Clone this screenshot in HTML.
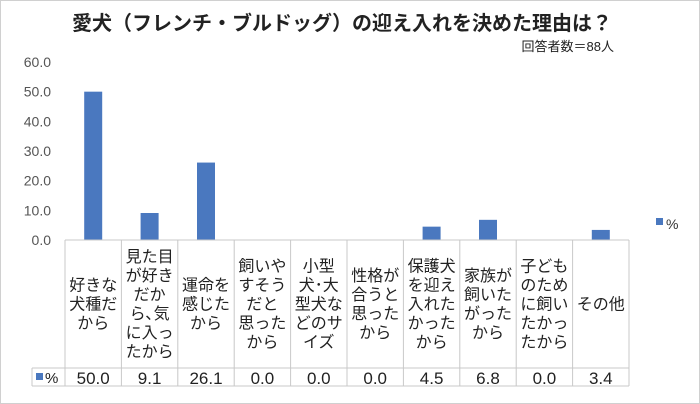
<!DOCTYPE html>
<html><head><meta charset="utf-8"><style>
body{margin:0;background:#fff}
svg{display:block;font-family:"Liberation Sans","Noto Sans CJK JP",sans-serif}
</style></head><body>
<svg id="c" width="700" height="404" xmlns="http://www.w3.org/2000/svg">
<rect x="0.5" y="0.5" width="699" height="403" fill="#fff" stroke="#d0d0d0"/>
<text x="342" y="30" text-anchor="middle" font-size="20" font-weight="bold" fill="#222">愛犬（フレンチ・ブルドッグ）の迎え入れを決めた理由は？</text>
<text x="614" y="51" text-anchor="end" font-size="13" fill="#222">回答者数＝88人</text>
<g id="yax"></g><g id="bars"></g><g id="tbl"></g>
<rect x="656" y="218" width="7" height="7" fill="#4a78bf"/>
<text x="666" y="229" font-size="14" fill="#333">%</text>
</svg>
<script>
const categories=[["好きな","犬種だ","から"],["見た目","が好き","だか","ら､気","に入っ","たから"],["運命を","感じた","から"],["飼いや","すそう","だと","思った","から"],["小型","犬･大","型犬な","どのサ","イズ"],["性格が","合うと","思った","から"],["保護犬","を迎え","入れた","かった","から"],["家族が","飼いた","がった","から"],["子ども","のため","に飼い","たかっ","たから"],["その他"]];
const values=[50.0,9.1,26.1,0.0,0.0,0.0,4.5,6.8,0.0,3.4];
const yTicks=[0,10,20,30,40,50,60];
const NS="http://www.w3.org/2000/svg";
const X0=65,CW=56.4,Y0=240,YT=62,YMAX=60,BW=18,TB=368,TE=386,LX=32;
const y=v=>Y0-(v/YMAX)*(Y0-YT);
const cx=i=>X0+CW*(i+0.5);
function mk(p,t,a){const e=document.createElementNS(NS,t);for(const k in a)e.setAttribute(k,a[k]);p.appendChild(e);return e;}
const yax=document.getElementById('yax'),bars=document.getElementById('bars'),tbl=document.getElementById('tbl');
yTicks.forEach(t=>{const e=mk(yax,'text',{x:51,y:y(t)+5,'text-anchor':'end','font-size':14,fill:'#555'});


e.textContent=t.toFixed(1);});
values.forEach((v,i)=>{const r=mk(bars,'rect',{x:cx(i)-BW/2,y:y(v),width:BW,height:Y0-y(v),fill:'#4a78bf'});

});
const XE=X0+CW*values.length;
const g='#c8c8c8';
mk(tbl,'line',{x1:X0,y1:Y0,x2:XE,y2:Y0,stroke:g});
mk(tbl,'line',{x1:LX,y1:TB,x2:XE,y2:TB,stroke:g});
mk(tbl,'line',{x1:LX,y1:TE,x2:XE,y2:TE,stroke:g});
mk(tbl,'line',{x1:LX,y1:TB,x2:LX,y2:TE,stroke:g});
for(let i=0;i<=values.length;i++)mk(tbl,'line',{x1:X0+CW*i,y1:Y0,x2:X0+CW*i,y2:TE,stroke:g});
categories.forEach((lines,i)=>{const lh=19,top=(Y0+TB)/2-lines.length*lh/2+15;
lines.forEach((l,j)=>{const e=mk(tbl,'text',{x:cx(i),y:top+j*lh,'text-anchor':'middle','font-size':16,fill:'#222'});


e.textContent=l;});});
values.forEach((v,i)=>{const e=mk(tbl,'text',{x:cx(i),y:384,'text-anchor':'middle','font-size':17,fill:'#222'});


e.textContent=v.toFixed(1);});
const s=mk(tbl,'rect',{x:36,y:373,width:7,height:7,fill:'#4a78bf'});


const lt=mk(tbl,'text',{x:45,y:383,'font-size':15,fill:'#222'});


lt.textContent='%';
</script>
</body></html>
